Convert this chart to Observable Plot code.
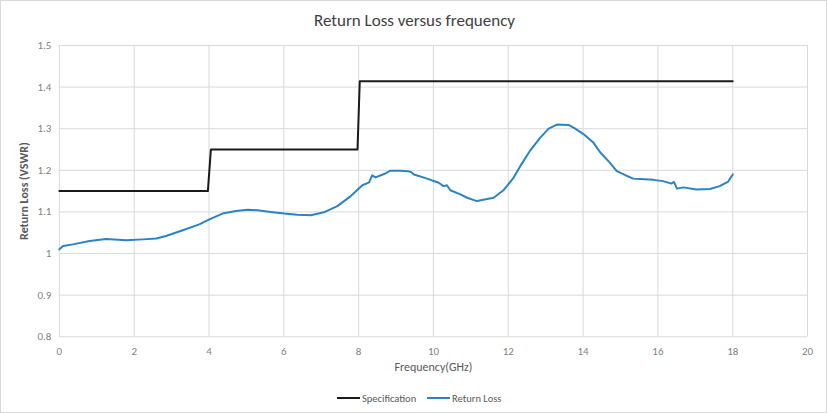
<!DOCTYPE html>
<html>
<head>
<meta charset="utf-8">
<script src="https://cdn.jsdelivr.net/npm/d3@7"></script>
<script src="https://cdn.jsdelivr.net/npm/@observablehq/plot@0.6"></script>
<style>
  html, body { margin: 0; padding: 0; background: #fff; }
  #chart {
    position: relative; width: 827px; height: 413px; box-sizing: border-box;
    border: 1px solid #d9d9d9; overflow: hidden;
    font-family: Carlito, "Open Sans", sans-serif;
  }
  #title {
    position: absolute; left: 0; width: 827px; top: 9px; text-align: center;
    font-size: 17px; font-weight: 400; color: #404040;
  }
  #plot { position: absolute; left: 0; top: 30px; }
  #legend {
    position: absolute; top: 390px; left: 0; width: 827px; height: 14px;
    font-size: 10.5px; color: #595959;
  }
  .item { position: absolute; top: 0; display: flex; align-items: center; height: 14px; }
  .swatch { width: 23px; height: 2px; margin-right: 2px; }
</style>
</head>
<body>
<div id="chart">
  <div id="title">Return Loss versus frequency</div>
  <div id="plot"></div>
  <div id="legend">
    <div class="item" style="left:336px"><div class="swatch" style="background:#1a1a1a"></div><span>Specification</span></div>
    <div class="item" style="left:426px"><div class="swatch" style="background:#2b83c6"></div><span>Return Loss</span></div>
  </div>
</div>
<script>
// Specification limit (VSWR) vs frequency (GHz)
const specFreq = [0, 3.97, 4.05, 7.97, 8.03, 18];
const specVSWR = [1.15, 1.15, 1.25, 1.25, 1.414, 1.414];

// Measured return loss (VSWR) vs frequency (GHz)
const rlFreq = [0, 0.1, 0.36, 0.81, 1.25, 1.79, 2.23, 2.59, 2.85, 3.30, 3.74, 4.01, 4.36, 4.72, 5.03, 5.30, 5.65, 6.01, 6.36, 6.72, 7.07, 7.43, 7.79, 8.10, 8.28, 8.36, 8.45, 8.68, 8.85, 9.12, 9.30, 9.40, 9.48, 9.83, 10.14, 10.27, 10.36, 10.45, 10.72, 10.90, 11.16, 11.61, 11.87, 12.14, 12.32, 12.59, 12.85, 13.08, 13.30, 13.61, 13.79, 14.01, 14.28, 14.45, 14.72, 14.90, 15.16, 15.34, 15.52, 15.88, 16.14, 16.36, 16.43, 16.51, 16.68, 17.03, 17.39, 17.65, 17.87, 18.00];
const rlVSWR = [1.010, 1.018, 1.022, 1.030, 1.035, 1.032, 1.034, 1.036, 1.042, 1.056, 1.070, 1.082, 1.096, 1.102, 1.105, 1.104, 1.100, 1.096, 1.093, 1.092, 1.099, 1.114, 1.138, 1.164, 1.171, 1.188, 1.183, 1.191, 1.199, 1.199, 1.198, 1.196, 1.190, 1.180, 1.170, 1.162, 1.164, 1.152, 1.142, 1.134, 1.126, 1.134, 1.152, 1.182, 1.210, 1.248, 1.278, 1.300, 1.310, 1.309, 1.300, 1.287, 1.266, 1.244, 1.218, 1.198, 1.187, 1.180, 1.179, 1.177, 1.174, 1.168, 1.172, 1.156, 1.159, 1.154, 1.155, 1.162, 1.172, 1.190];

const xTicks = [0, 2, 4, 6, 8, 10, 12, 14, 16, 18, 20];
const yTicks = [0.8, 0.9, 1.0, 1.1, 1.2, 1.3, 1.4, 1.5];

const spec = specFreq.map((f, i) => ({f, v: specVSWR[i]}));
const rl = rlFreq.map((f, i) => ({f, v: rlVSWR[i]}));

const plot = Plot.plot({
  width: 827,
  height: 350,
  marginLeft: 58,
  marginRight: 19,
  marginTop: 14,
  marginBottom: 44,
  style: {fontFamily: 'Carlito, "Open Sans", sans-serif', fontSize: "11px", color: "#7f7f7f", background: "transparent"},
  x: {domain: [0, 20], ticks: xTicks, tickSize: 0, tickPadding: 10, label: "Frequency(GHz)", labelAnchor: "center", labelOffset: 34, labelArrow: "none"},
  y: {domain: [0.8, 1.5], ticks: yTicks, tickSize: 0, tickPadding: 8, tickFormat: d => String(+d.toFixed(1)), label: "Return Loss (VSWR)", labelAnchor: "center", labelOffset: 40, labelArrow: "none"},
  marks: [
    Plot.gridX(xTicks, {stroke: "#d9d9d9", strokeOpacity: 1}),
    Plot.gridY(yTicks, {stroke: "#d9d9d9", strokeOpacity: 1}),
    Plot.line(spec, {x: "f", y: "v", stroke: "#1a1a1a", strokeWidth: 2}),
    Plot.line(rl, {x: "f", y: "v", stroke: "#2b83c6", strokeWidth: 2})
  ]
});
document.getElementById("plot").appendChild(plot);
d3.select(plot).selectAll("g[aria-label='y-axis label'] text").style("font-weight", "700").style("font-size", "12px").style("fill", "#595959");
d3.select(plot).selectAll("g[aria-label='x-axis label'] text").style("font-size", "12px").style("fill", "#595959");
</script>
</body>
</html>
